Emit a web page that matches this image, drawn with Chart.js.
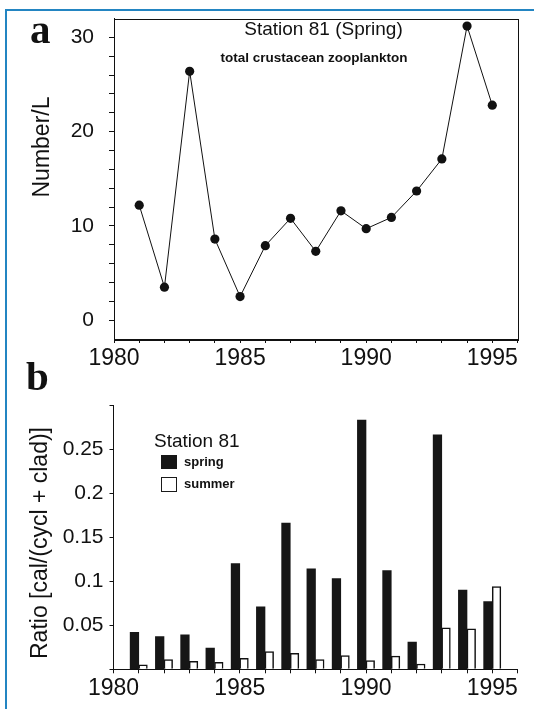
<!DOCTYPE html>
<html>
<head>
<meta charset="utf-8">
<script src="https://cdn.jsdelivr.net/npm/chart.js@4.4.0/dist/chart.umd.min.js"></script>
<style>
  html, body { margin: 0; padding: 0; background: #fff; }
  #page { position: relative; width: 534px; height: 709px; overflow: hidden;
          font-family: "Liberation Sans", Arial, sans-serif; color: #111; }
  canvas { position: absolute; left: 0; top: 0; }
  .frame { position: absolute; left: 5px; top: 8.5px; right: -10px; bottom: -10px;
           border-top: 2.5px solid #2385c2; border-left: 2.5px solid #2385c2; }
  .txt { position: absolute; white-space: nowrap; line-height: 1; }
  .panel { font-family: "Liberation Serif", "DejaVu Serif", serif; font-weight: bold; font-size: 41px; }
  .ytitle { font-size: 23px; transform: translate(-50%, -50%) rotate(-90deg); }
  .box { position: absolute; box-sizing: border-box; }
</style>
</head>
<body>
<div id="page">
  <div class="frame"></div>
  <canvas id="chartA" width="534" height="709"></canvas>
  <canvas id="chartB" width="534" height="709"></canvas>

  <div class="txt panel" style="left:30px; top:8.5px;">a</div>
  <div class="txt panel" style="left:26px; top:355.5px;">b</div>

  <div class="txt" style="left:323.5px; top:19px; font-size:19px; transform:translateX(-50%);">Station 81 (Spring)</div>
  <div class="txt" style="left:314px; top:51px; font-size:13.5px; font-weight:bold; transform:translateX(-50%);">total crustacean zooplankton</div>

  <div class="txt ytitle" style="left:41px; top:147px;">Number/L</div>
  <div class="txt ytitle" style="left:39px; top:542.5px;">Ratio [cal/(cycl + clad)]</div>

  <div class="txt" style="left:154px; top:430.5px; font-size:19px;">Station 81</div>
  <div class="box" style="left:161px; top:455px; width:16px; height:14px; background:#161616;"></div>
  <div class="txt" style="left:184px; top:454.5px; font-size:13px; font-weight:bold;">spring</div>
  <div class="box" style="left:161px; top:476.5px; width:16px; height:15px; background:#fff; border:1.5px solid #1a1a1a;"></div>
  <div class="txt" style="left:184px; top:477.3px; font-size:13px; font-weight:bold;">summer</div>
</div>

<script>
// sampling years (one value per year)
const years = [1981, 1982, 1983, 1984, 1985, 1986, 1987, 1988, 1989, 1990, 1991, 1992, 1993, 1994, 1995];

// panel a: total crustacean zooplankton, Number/L
const crustacean = [12.2, 3.5, 26.4, 8.6, 2.5, 7.9, 10.8, 7.3, 11.6, 9.7, 10.9, 13.7, 17.1, 31.2, 22.8];

// panel b: cal/(cycl + clad)
const springRatio = [0.042, 0.037, 0.039, 0.024, 0.120, 0.071, 0.166, 0.114, 0.103, 0.283, 0.112, 0.031, 0.266, 0.090, 0.077];
const summerRatio = [0.005, 0.011, 0.009, 0.008, 0.0125, 0.020, 0.018, 0.011, 0.0155, 0.010, 0.015, 0.006, 0.047, 0.046, 0.094];

// ticks
const yearTicks = [1980, 1981, 1982, 1983, 1984, 1985, 1986, 1987, 1988, 1989, 1990, 1991, 1992, 1993, 1994, 1995, 1996];
const yearLabels = [1980, 1985, 1990, 1995];
const countTicks = [0, 2, 4, 6, 8, 10, 12, 14, 16, 18, 20, 22, 24, 26, 28, 30];
const countLabels = [0, 10, 20, 30];
const ratioTicks = [0, 0.05, 0.1, 0.15, 0.2, 0.25, 0.3];
const ratioLabels = [0.05, 0.1, 0.15, 0.2, 0.25];

const INK = "#111";
Chart.defaults.font.family = "'Liberation Sans', Arial, sans-serif";
Chart.defaults.color = INK;

function tickGrid(len) {
  return { display: true, drawOnChartArea: false, drawTicks: true, tickLength: len, color: INK, lineWidth: 1, offset: false };
}

// the label overhang must not push the plot area around
function noOverhang(s) {
  s.paddingTop = 0; s.paddingBottom = 0; s.paddingLeft = 0; s.paddingRight = 0;
}

function yearAxis(height) {
  return {
    type: "linear", min: 1980, max: 1996, offset: false,
    afterBuildTicks: (s) => { s.ticks = yearTicks.map((v) => ({ value: v })); },
    afterFit: (s) => { s.height = height; noOverhang(s); },
    ticks: {
      autoSkip: false, maxRotation: 0, padding: 2, color: INK, font: { size: 23 },
      callback: (v) => (yearLabels.includes(v) ? String(v) : ""),
    },
    grid: tickGrid(4),
    border: { display: true, color: INK, width: 1 },
  };
}

// closes the box round panel a
const boxFrame = {
  id: "boxFrame",
  afterDraw(chart) {
    const { ctx, chartArea: a } = chart;
    ctx.save();
    ctx.strokeStyle = INK;
    ctx.lineWidth = 1;
    ctx.strokeRect(Math.round(a.left) + 0.5, Math.round(a.top) + 0.5,
                   Math.round(a.right - a.left), Math.round(a.bottom - a.top));
    ctx.restore();
  },
};

new Chart(document.getElementById("chartA"), {
  type: "line",
  data: {
    datasets: [{
      data: years.map((x, i) => ({ x, y: crustacean[i] })),
      borderColor: INK, borderWidth: 1, tension: 0,
      pointRadius: 4.6, pointBackgroundColor: "#111", pointBorderWidth: 0,
      clip: false,
    }],
  },
  options: {
    responsive: false, animation: false, devicePixelRatio: 1,
    layout: { padding: { left: 0, top: 18.5, right: 16.5, bottom: 330 } },
    plugins: { legend: { display: false }, tooltip: { enabled: false } },
    scales: {
      x: yearAxis(40),
      y: {
        type: "linear", min: -2, max: 32,
        afterBuildTicks: (s) => { s.ticks = countTicks.map((v) => ({ value: v })); },
        afterFit: (s) => { s.width = 114; noOverhang(s); },
        ticks: {
          autoSkip: false, padding: 15, color: INK, font: { size: 21 },
          callback: (v) => (countLabels.includes(v) ? String(v) : ""),
        },
        grid: tickGrid(5),
        border: { display: true, color: INK, width: 1 },
      },
    },
  },
  plugins: [boxFrame],
});

new Chart(document.getElementById("chartB"), {
  type: "bar",
  data: {
    datasets: [
      {
        label: "spring",
        data: years.map((x, i) => ({ x, y: springRatio[i] })),
        backgroundColor: "#161616", borderColor: "#161616", borderWidth: 0,
        barThickness: 8.6,
      },
      {
        label: "summer",
        data: years.map((x, i) => ({ x, y: summerRatio[i] })),
        backgroundColor: "#fff", borderColor: INK, borderWidth: 1.5,
        barThickness: 8.6,
      },
    ],
  },
  options: {
    responsive: false, animation: false, devicePixelRatio: 1,
    layout: { padding: { left: 0, top: 405, right: 16.5, bottom: 0 } },
    plugins: { legend: { display: false }, tooltip: { enabled: false } },
    scales: {
      x: yearAxis(39.7),
      y: {
        type: "linear", min: 0, max: 0.3,
        afterBuildTicks: (s) => { s.ticks = ratioTicks.map((v) => ({ value: v })); },
        afterFit: (s) => { s.width = 113.5; noOverhang(s); },
        ticks: {
          autoSkip: false, padding: 6, color: INK, font: { size: 21 },
          callback: (v) => (ratioLabels.includes(v) ? String(v) : ""),
        },
        grid: tickGrid(4),
        border: { display: true, color: INK, width: 1 },
      },
    },
  },
});
</script>
</body>
</html>
